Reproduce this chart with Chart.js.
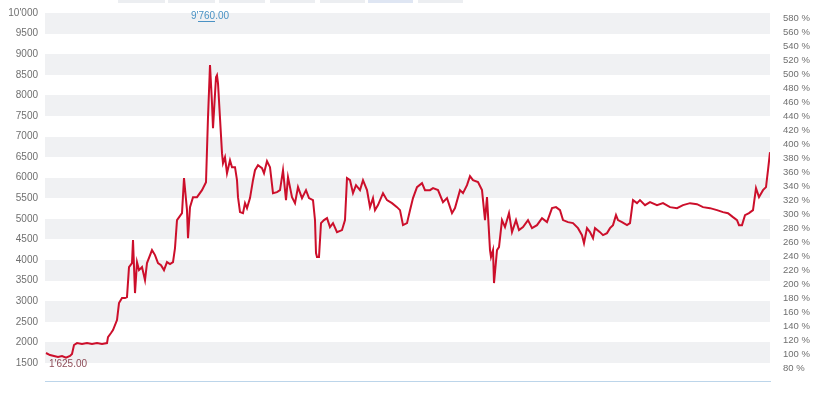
<!DOCTYPE html>
<html>
<head>
<meta charset="utf-8">
<script src="https://cdn.jsdelivr.net/npm/chart.js@4.4.0/dist/chart.umd.min.js"></script>
<style>
  html, body { margin: 0; padding: 0; background: #fff; }
  #wrap { position: relative; width: 830px; height: 393px; }
  .tab { position: absolute; top: 0; height: 3px; background: #eceef1; }
</style>
</head>
<body>
<div id="wrap">
  <canvas id="myChart" width="830" height="393"></canvas>
  <div class="tab" style="left:118px;width:47px"></div>
  <div class="tab" style="left:168px;width:47px"></div>
  <div class="tab" style="left:219px;width:46px"></div>
  <div class="tab" style="left:270px;width:45px"></div>
  <div class="tab" style="left:320px;width:45px"></div>
  <div class="tab" style="left:368px;width:45px;background:#dfe6f3"></div>
  <div class="tab" style="left:418px;width:45px"></div>
</div>
<script>
// 時系列データ（日数インデックスと終値）
const days = [
  1, 5, 9, 13, 17, 21, 25, 27, 29, 32, 37, 42, 47, 52, 57, 62, 63, 66, 68, 72,
  74, 77, 80, 82, 84, 87, 88, 90, 92, 94, 97, 100, 102, 107, 110, 113, 116, 119, 122, 125,
  128, 130, 132, 137, 139, 142, 143, 145, 148, 152, 157, 161, 163, 165, 167, 168, 171, 172, 173, 177,
  178, 180, 182, 185, 187, 190, 192, 193, 195, 198, 200, 202, 205, 208, 210, 213, 217, 219, 222, 225,
  228, 232, 235, 238, 241, 243, 247, 250, 253, 257, 261, 264, 268, 270, 271, 272, 274, 276, 279, 282,
  285, 288, 292, 297, 300, 302, 305, 308, 311, 315, 318, 322, 325, 328, 330, 333, 338, 342, 347, 352,
  355, 358, 362, 365, 368, 372, 377, 380, 385, 388, 393, 398, 402, 407, 410, 415, 418, 422, 425, 428,
  433, 437, 440, 442, 445, 446, 448, 449, 452, 454, 457, 460, 464, 467, 471, 474, 478, 483, 487, 492,
  497, 502, 507, 511, 515, 518, 523, 528, 533, 537, 539, 542, 545, 548, 550, 555, 558, 562, 565, 568,
  571, 573, 577, 582, 585, 588, 592, 595, 600, 605, 612, 618, 625, 632, 638, 645, 652, 658, 665, 672,
  678, 683, 688, 692, 694, 697, 700, 704, 708, 711, 714, 718, 721, 723, 725
];
const prices = [
  1741, 1692, 1668, 1644, 1668, 1625, 1668, 1716, 1935, 1983, 1959, 1983, 1959, 1983, 1959, 1983, 2129, 2226, 2299, 2542,
  2954, 3076, 3076, 3100, 3828, 3925, 4483, 3197, 3949, 3755, 3828, 3512, 3925, 4241, 4119, 3925, 3876, 3755, 3949, 3900,
  3949, 4289, 4969, 5138, 5988, 5211, 4532, 5284, 5527, 5527, 5697, 5891, 7468, 8733, 7808, 7202, 8439, 8488, 8294, 6595,
  6352, 6498, 6109, 6425, 6255, 6255, 5939, 5527, 5163, 5138, 5381, 5260, 5503, 5939, 6182, 6303, 6231, 6109, 6401, 6255,
  5624, 5648, 5697, 6182, 5454, 6012, 5527, 5381, 5770, 5503, 5697, 5503, 5454, 4969, 4168, 4071, 4071, 4896, 4969, 5017,
  4799, 4896, 4677, 4726, 4969, 5988, 5939, 5624, 5818, 5697, 5939, 5697, 5284, 5503, 5211, 5333, 5624, 5454, 5381, 5284,
  5211, 4847, 4896, 5211, 5503, 5770, 5867, 5697, 5697, 5745, 5697, 5406, 5503, 5138, 5260, 5697, 5624, 5818, 6036, 5939,
  5891, 5697, 4969, 5527, 4241, 4071, 4241, 3440, 4241, 4313, 4969, 4799, 5138, 4677, 4969, 4726, 4799, 4969, 4774, 4847,
  5017, 4920, 5260, 5284, 5211, 4969, 4920, 4896, 4774, 4604, 4410, 4774, 4677, 4532, 4774, 4677, 4604, 4653, 4774, 4847,
  5090, 4969, 4920, 4847, 4896, 5454, 5381, 5454, 5333, 5406, 5333, 5381, 5284, 5260, 5333, 5381, 5357, 5284, 5260, 5211,
  5163, 5138, 5041, 4969, 4847, 4847, 5090, 5138, 5211, 5745, 5527, 5697, 5770, 6182, 6619
];

// 軸の目盛り
const leftTicks = [10000, 9500, 9000, 8500, 8000, 7500, 7000, 6500, 6000, 5500, 5000, 4500, 4000, 3500, 3000, 2500, 2000, 1500];
const rightTicks = [580, 560, 540, 520, 500, 480, 460, 440, 420, 400, 380, 360, 340, 320, 300, 280, 260, 240, 220, 200, 180, 160, 140, 120, 100, 80];
const basePrice = 1700;   // 100 % の基準値
const yMin = 1061;
const yMax = 10000;
const minLabel = "1'625.00";
const maxLabel = "9'760.00";

function fmtPrice(v) {
    if (v >= 10000) {
        const s = String(v);
        return s.slice(0, s.length - 3) + "'" + s.slice(-3);
    }
    return String(v);
}

// 背景の縞模様
const bandPlugin = {
    id: 'bands',
    beforeDatasetsDraw(chart) {
        const { ctx, chartArea, scales } = chart;
        const y = scales.y;
        ctx.save();
        ctx.fillStyle = '#f0f1f3';
        for (let i = 0; i + 1 < leftTicks.length; i += 2) {
            const top = Math.round(y.getPixelForValue(leftTicks[i]));
            const bottom = Math.round(y.getPixelForValue(leftTicks[i + 1]));
            ctx.fillRect(chartArea.left, top, chartArea.right - chartArea.left, bottom - top);
        }
        ctx.restore();
    }
};

// 最高値・最安値のラベル
const extremaPlugin = {
    id: 'extrema',
    afterDatasetsDraw(chart) {
        const { ctx, chartArea, scales } = chart;
        let iMax = 0, iMin = 0;
        prices.forEach((p, i) => {
            if (p > prices[iMax]) iMax = i;
            if (p < prices[iMin]) iMin = i;
        });
        ctx.save();
        ctx.font = '10px "Liberation Sans", Arial, sans-serif';
        ctx.textAlign = 'center';
        ctx.textBaseline = 'top';

        // 最高値
        const xMax = scales.x.getPixelForValue(days[iMax]);
        const yTop = chartArea.top - 2;
        ctx.fillStyle = '#4a92c4';
        ctx.fillText(maxLabel, xMax, yTop);
        const full = ctx.measureText(maxLabel).width;
        const pre = ctx.measureText("9'").width;
        const mid = ctx.measureText("760").width;
        const x0 = xMax - full / 2 + pre;
        ctx.fillRect(Math.round(x0), yTop + 10, Math.round(mid), 1);

        // 最安値
        const xMin = scales.x.getPixelForValue(days[iMin]);
        const yLow = scales.y.getPixelForValue(prices[iMin]);
        ctx.fillStyle = '#8e4d58';
        ctx.fillText(minLabel, xMin + 2, yLow + 1);
        ctx.restore();
    }
};

// 縦軸の余白を消してレイアウトを固定
function fixVertical(width) {
    return function(scale) {
        scale.width = width;
        scale.paddingTop = 0;
        scale.paddingBottom = 0;
    };
}

document.addEventListener('DOMContentLoaded', function() {
    const ctx = document.getElementById('myChart').getContext('2d');
    const tickFont = { family: '"Liberation Sans", Arial, sans-serif', size: 10 };

    new Chart(ctx, {
        type: 'line',
        data: {
            labels: days,
            datasets: [{
                data: days.map((d, i) => ({ x: d, y: prices[i] })),
                borderColor: '#cc0f2b',
                borderWidth: 2,
                pointRadius: 0,
                tension: 0,
                fill: false,
                yAxisID: 'y'
            }]
        },
        options: {
            responsive: false,
            animation: false,
            layout: { padding: { top: 13, bottom: 12, left: 0, right: 0 } },
            plugins: {
                legend: { display: false },
                tooltip: { enabled: false }
            },
            scales: {
                x: {
                    type: 'linear',
                    min: 0,
                    max: 725,
                    ticks: { display: false },
                    grid: { display: false, drawTicks: false },
                    border: { display: true, color: '#bcd5ea', width: 1 },
                    afterFit: function(scale) {
                        scale.height = 0;
                        scale.paddingLeft = 0;
                        scale.paddingRight = 0;
                    }
                },
                y: {
                    position: 'left',
                    min: yMin,
                    max: yMax,
                    grid: { display: false, drawTicks: false },
                    border: { display: false },
                    afterBuildTicks: function(scale) {
                        scale.ticks = leftTicks.map(v => ({ value: v }));
                    },
                    afterFit: fixVertical(45),
                    ticks: {
                        padding: 7,
                        autoSkip: false,
                        color: '#707070',
                        font: tickFont,
                        callback: function(v) { return fmtPrice(v); }
                    }
                },
                y2: {
                    position: 'right',
                    min: yMin / basePrice * 100,
                    max: yMax / basePrice * 100,
                    grid: { display: false, drawTicks: false, drawOnChartArea: false },
                    border: { display: false },
                    afterBuildTicks: function(scale) {
                        scale.ticks = rightTicks.map(v => ({ value: v }));
                    },
                    afterFit: fixVertical(60),
                    ticks: {
                        padding: 13,
                        autoSkip: false,
                        color: '#707070',
                        font: { family: '"Liberation Sans", Arial, sans-serif', size: 9.5 },
                        callback: function(v) { return v + ' %'; }
                    }
                }
            }
        },
        plugins: [bandPlugin, extremaPlugin]
    });
});
</script>
</body>
</html>
